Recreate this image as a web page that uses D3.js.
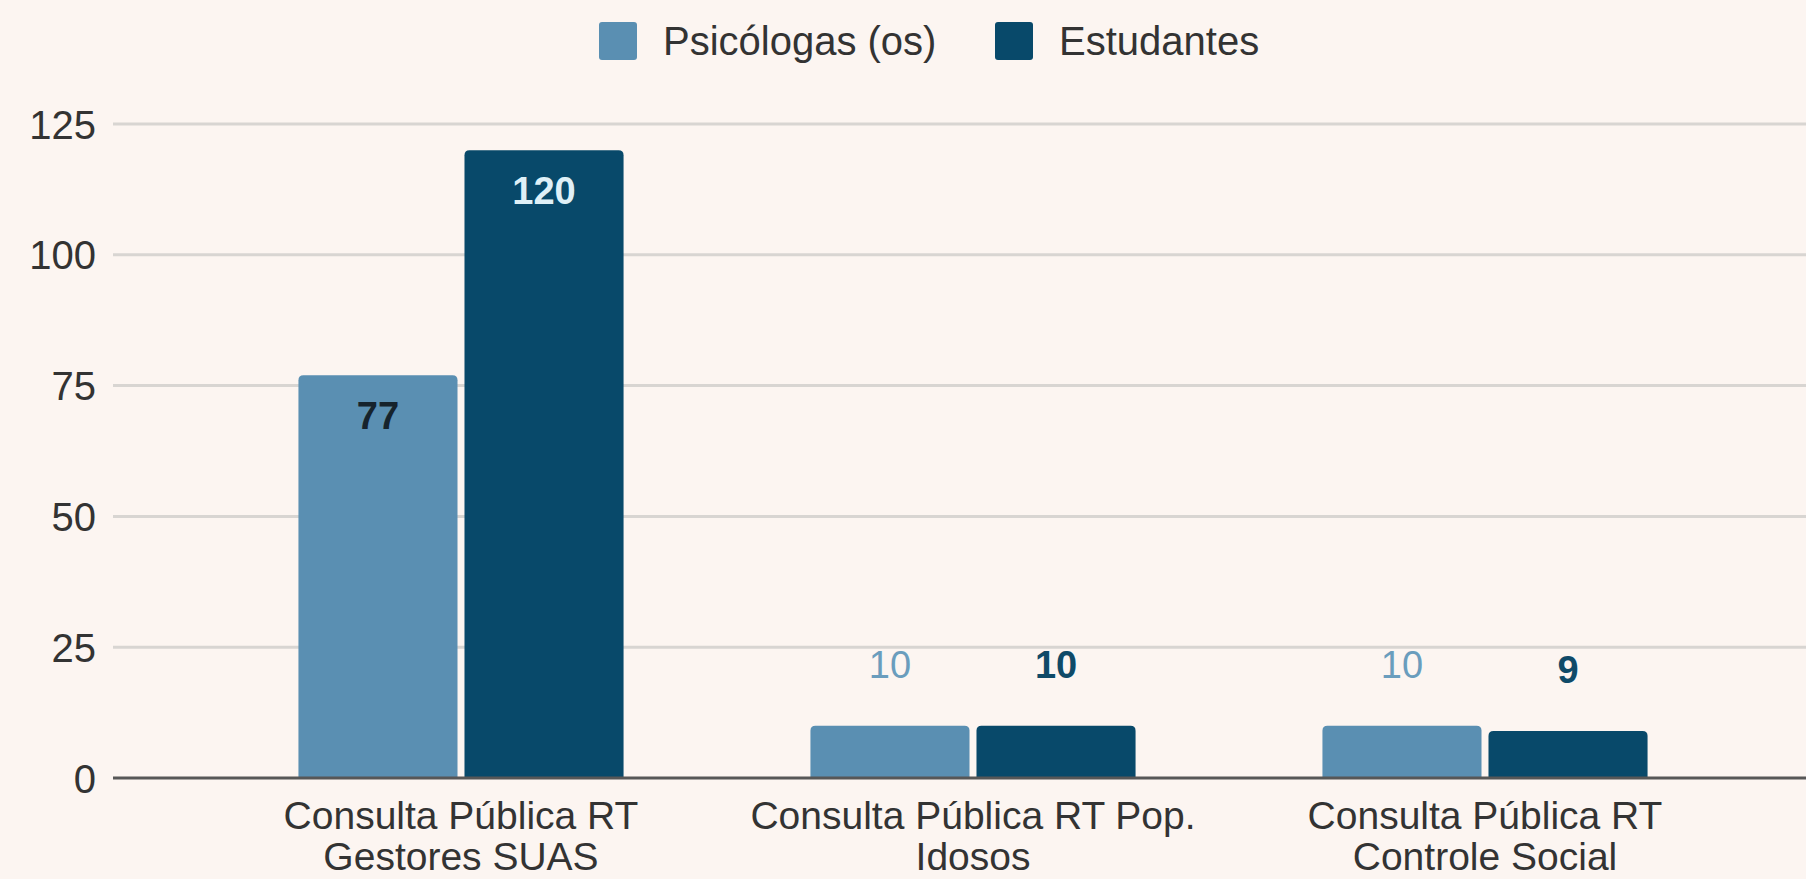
<!DOCTYPE html>
<html><head><meta charset="utf-8">
<script src="https://cdn.jsdelivr.net/npm/d3@7"></script>
<style>
html,body{margin:0;padding:0;background:#fcf5f1;}
svg{display:block;}
text{font-family:"Liberation Sans",Arial,sans-serif;}
</style></head>
<body>
<svg id="chart" width="1806" height="879"></svg>
<script>
const categories = [["Consulta Pública RT","Gestores SUAS"],["Consulta Pública RT Pop.","Idosos"],["Consulta Pública RT","Controle Social"]];
const seriesNames = ["Psicólogas (os)","Estudantes"];
const psicologas = [77, 10, 10];
const estudantes = [120, 10, 9];
const yTicks = [0, 25, 50, 75, 100, 125];
const colors = ["#5a8fb2", "#08496a"];

const W = 1806, H = 879;
const svg = d3.select("#chart");
svg.append("rect").attr("width", W).attr("height", H).attr("fill", "#fcf5f1");

const y = d3.scaleLinear().domain([0, 125]).range([778, 124]);
const x0 = d3.scaleBand().domain(d3.range(categories.length)).range([205, 1741]).paddingInner(0.365).paddingOuter(0.1825);
const x1 = d3.scaleBand().domain([0, 1]).range([0, x0.bandwidth()]).paddingInner(0.042);

// gridlines
svg.append("g").selectAll("line").data(yTicks.filter(d => d > 0)).join("line")
  .attr("x1", 113).attr("x2", W).attr("y1", d => y(d)).attr("y2", d => y(d))
  .attr("stroke", "#d8d5d2").attr("stroke-width", 3);

// y axis labels
const yAxis = d3.axisLeft(y).tickValues(yTicks).tickSize(0).tickPadding(0);
const ya = svg.append("g").attr("transform", "translate(96,0)").call(yAxis);
ya.select(".domain").remove();
ya.selectAll("text").attr("font-size", 40).attr("fill", "#333").attr("font-family", "'Liberation Sans', Arial, sans-serif").attr("dy", "0.35em");

// bars
const rows = categories.map((c, i) => ({i, vals: [psicologas[i], estudantes[i]]}));
function barPath(x, yTop, w, yBot, r) {
  const h = yBot - yTop; r = Math.min(r, h / 2, w / 2);
  return `M${x},${yBot}V${yTop + r}Q${x},${yTop} ${x + r},${yTop}H${x + w - r}Q${x + w},${yTop} ${x + w},${yTop + r}V${yBot}Z`;
}
const g = svg.append("g");
rows.forEach(row => {
  row.vals.forEach((v, s) => {
    const bx = x0(row.i) + x1(s);
    g.append("path").attr("d", barPath(bx, y(v), x1.bandwidth(), y(0), 5)).attr("fill", colors[s]);
  });
});

// axis line
svg.append("line").attr("x1", 113).attr("x2", W).attr("y1", y(0)).attr("y2", y(0))
  .attr("stroke", "#575757").attr("stroke-width", 3);

// data labels
rows.forEach(row => {
  row.vals.forEach((v, s) => {
    const cx = x0(row.i) + x1(s) + x1.bandwidth() / 2;
    const inside = v > 30;
    const t = g.append("text").attr("x", cx).attr("text-anchor", "middle").attr("font-size", 38)
      .attr("font-weight", "bold").text(v);
    if (inside) {
      t.attr("y", y(v) + 54).attr("fill", s === 0 ? "#16232c" : "#dff0f7");
    } else {
      t.attr("y", y(v) - 48).attr("fill", s === 0 ? "#6a9dbd" : "#0f4a68");
      if (s === 0) t.attr("font-weight", "normal");
    }
  });
});

// category labels
const xl = svg.append("g");
categories.forEach((lines, i) => {
  const cx = x0(i) + x0.bandwidth() / 2;
  const t = xl.append("text").attr("x", cx).attr("y", 829).attr("text-anchor", "middle")
    .attr("font-size", 39).attr("fill", "#333");
  lines.forEach((ln, k) => t.append("tspan").attr("x", cx).attr("dy", k === 0 ? 0 : 41).text(ln));
});

// legend
const legendX = [599, 995];
seriesNames.forEach((n, s) => {
  svg.append("rect").attr("x", legendX[s]).attr("y", 22).attr("width", 38).attr("height", 38)
    .attr("rx", 3).attr("fill", colors[s]);
  svg.append("text").attr("x", legendX[s] + 64).attr("y", 55).attr("font-size", 40)
    .attr("fill", "#333").text(n);
});
</script>
</body></html>
